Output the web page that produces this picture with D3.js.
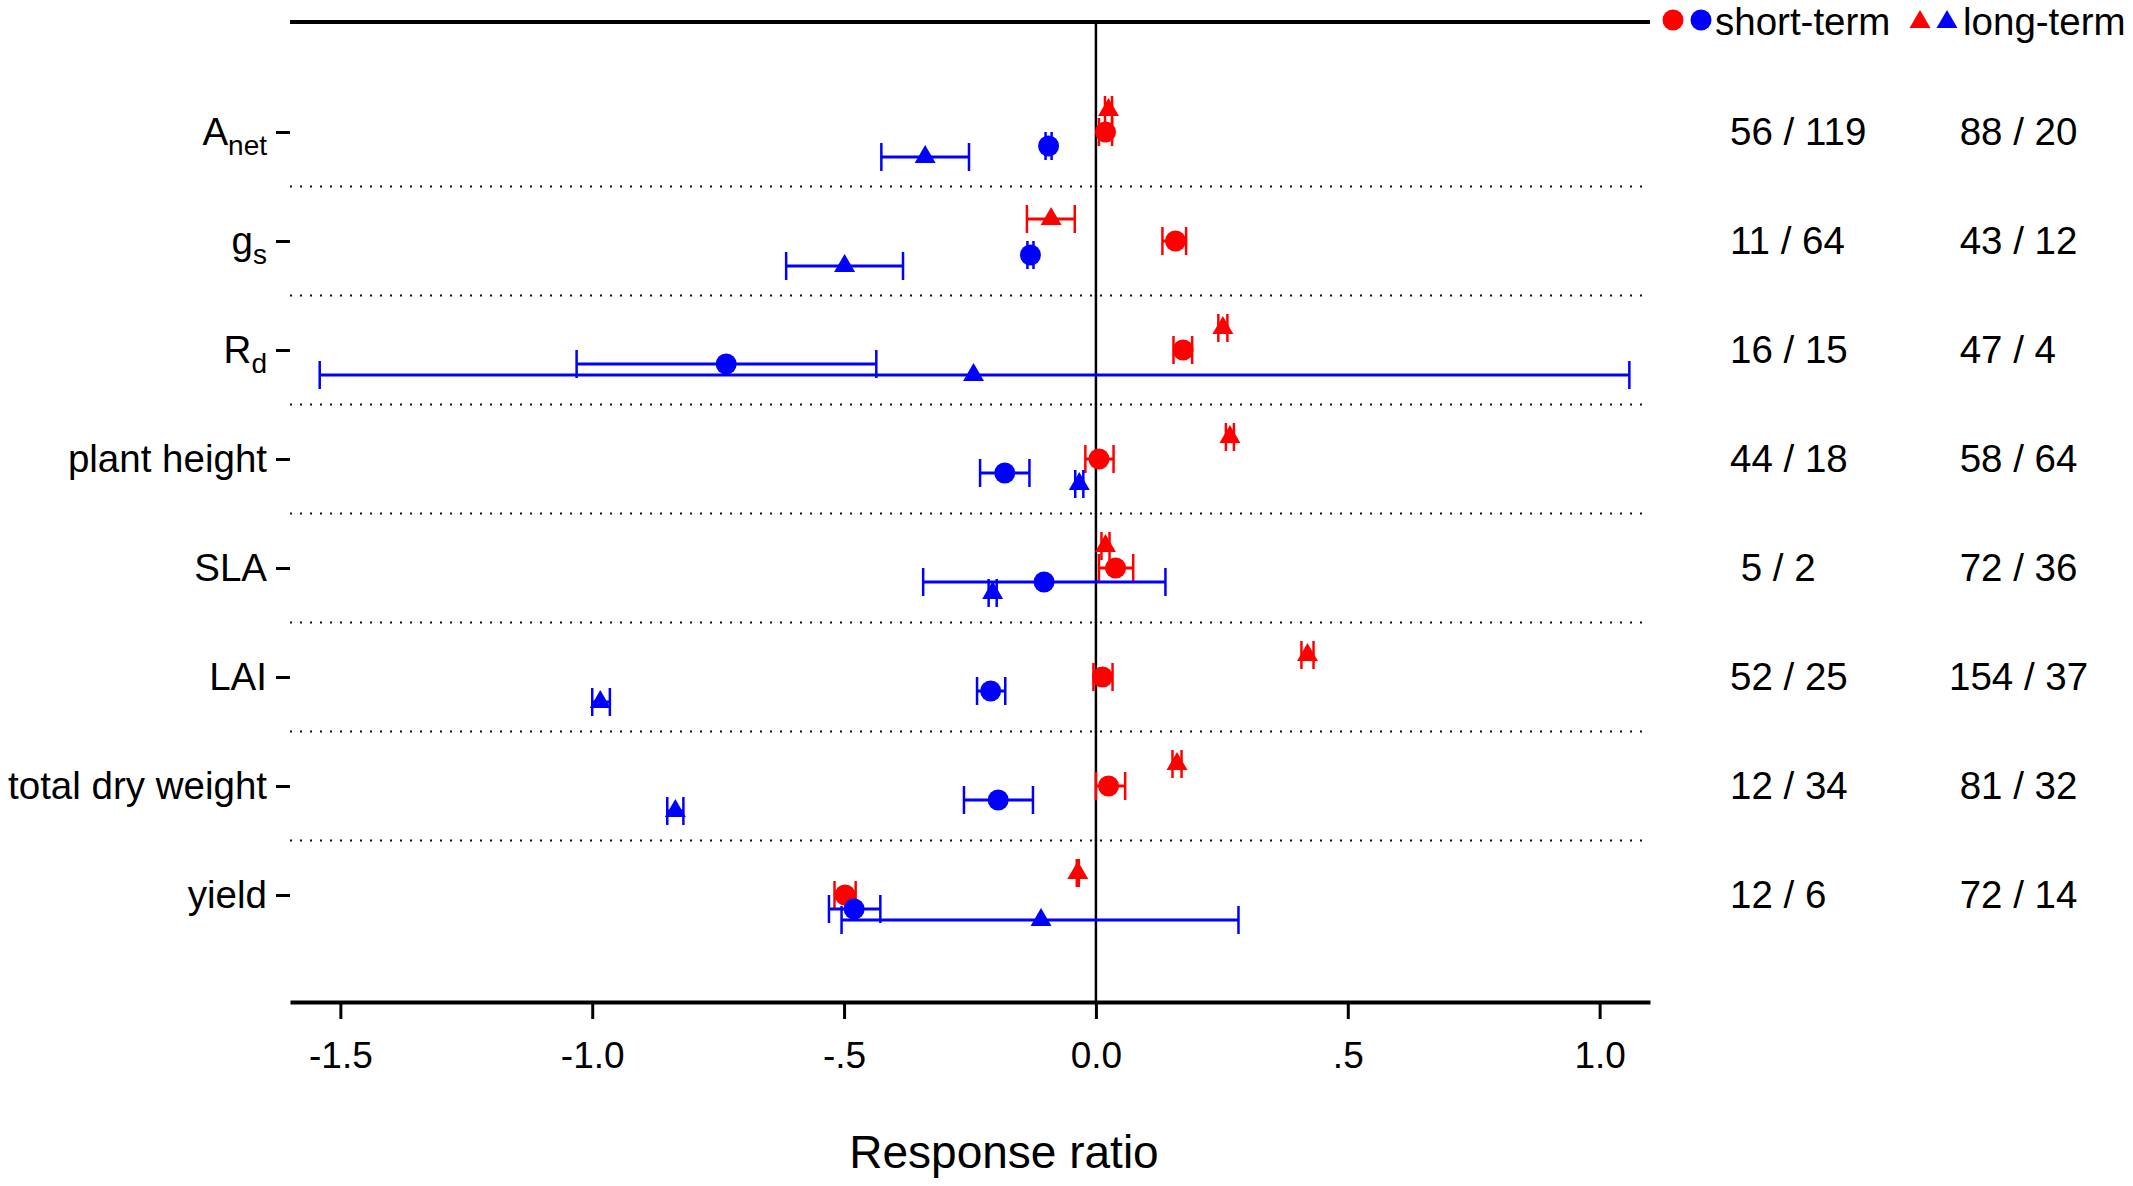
<!DOCTYPE html>
<html>
<head>
<meta charset="utf-8">
<script src="https://cdn.jsdelivr.net/npm/d3@7"></script>
<style>
  body { margin: 0; background: #fff; }
  text { font-family: "Liberation Sans", Arial, sans-serif; fill: #000; }
</style>
</head>
<body>
<script>
const width = 2133;
const height = 1186;

// categories, top to bottom
const traits = ['Anet', 'gs', 'Rd', 'plant height', 'SLA', 'LAI', 'total dry weight', 'yield'];
const subLabels = { Anet: ['A', 'net'], gs: ['g', 's'], Rd: ['R', 'd'] };

// short-term red (circle): mean, lower, upper
const shortRedMean = [0.019, 0.158, 0.173, 0.006, 0.039, 0.013, 0.025, -0.498];
const shortRedLow  = [0.006, 0.132, 0.154, -0.021, 0.006, -0.005, 0.000, -0.519];
const shortRedHigh = [0.032, 0.179, 0.191, 0.035, 0.074, 0.033, 0.058, -0.477];

// short-term blue (circle)
const shortBlueMean = [-0.094, -0.130, -0.734, -0.181, -0.103, -0.209, -0.194, -0.480];
const shortBlueLow  = [-0.100, -0.136, -1.031, -0.230, -0.343, -0.236, -0.262, -0.530];
const shortBlueHigh = [-0.088, -0.124, -0.436, -0.132, 0.138, -0.180, -0.125, -0.428];

// long-term red (triangle)
const longRedMean = [0.025, -0.089, 0.252, 0.266, 0.019, 0.420, 0.161, -0.036];
const longRedLow  = [0.018, -0.137, 0.243, 0.258, 0.011, 0.408, 0.152, -0.038];
const longRedHigh = [0.032, -0.042, 0.261, 0.274, 0.027, 0.432, 0.170, -0.034];

// long-term blue (triangle)
const longBlueMean = [-0.339, -0.499, -0.243, -0.033, -0.205, -0.984, -0.835, -0.109];
const longBlueLow  = [-0.426, -0.615, -1.541, -0.041, -0.213, -1.000, -0.851, -0.505];
const longBlueHigh = [-0.252, -0.383, 1.059, -0.025, -0.197, -0.965, -0.819, 0.283];

// number of studies / observations
const shortN1 = [56, 11, 16, 44, 5, 52, 12, 12];
const shortN2 = [119, 64, 15, 18, 2, 25, 34, 6];
const longN1 = [88, 43, 47, 58, 72, 154, 81, 72];
const longN2 = [20, 12, 4, 64, 36, 37, 32, 14];

const xTicks = [-1.5, -1.0, -0.5, 0, 0.5, 1.0];

const RED = '#ff0000';
const BLUE = '#0000ff';

const svg = d3.select('body').append('svg')
    .attr('width', width)
    .attr('height', height);

svg.append('rect').attr('width', width).attr('height', height).attr('fill', '#fff');

const x = d3.scaleLinear().domain([-1.6, 1.1]).range([290, 1650]);
const y = d3.scalePoint().domain(traits).range([132, 895]);
const step = y.step();

// dotted separators
svg.append('g')
    .selectAll('line')
    .data(traits.slice(0, -1))
    .enter().append('line')
    .attr('x1', x.range()[0])
    .attr('x2', x.range()[1])
    .attr('y1', d => y(d) + step / 2)
    .attr('y2', d => y(d) + step / 2)
    .attr('stroke', '#111')
    .attr('stroke-width', 2)
    .attr('stroke-dasharray', '2,8');

// top frame line
svg.append('line')
    .attr('x1', x.range()[0]).attr('x2', x.range()[1])
    .attr('y1', 22).attr('y2', 22)
    .attr('stroke', '#000').attr('stroke-width', 4);

// zero line
svg.append('line')
    .attr('x1', x(0)).attr('x2', x(0))
    .attr('y1', 22).attr('y2', 1002)
    .attr('stroke', '#000').attr('stroke-width', 2.5);

// x axis
const xAxis = svg.append('g')
    .attr('transform', 'translate(0,1002)')
    .call(d3.axisBottom(x).tickValues(xTicks).tickSize(17).tickSizeOuter(0).tickPadding(23)
        .tickFormat(d => {
            const s = d.toFixed(1);
            return d !== 0 && Math.abs(d) < 1 ? s.replace('0.', '.') : s;
        }));
xAxis.select('.domain').attr('stroke-width', 4);
xAxis.selectAll('.tick line').attr('stroke-width', 3);
xAxis.selectAll('text')
    .attr('font-size', '37px')
    .attr('font-family', '"Liberation Sans", Arial, sans-serif');

svg.append('text')
    .attr('x', 1004)
    .attr('y', 1168)
    .attr('text-anchor', 'middle')
    .attr('font-size', '46px')
    .text('Response ratio');

// y axis with category labels
const yAxis = svg.append('g')
    .attr('transform', 'translate(290,0)')
    .call(d3.axisLeft(y).tickSize(14).tickPadding(9));
yAxis.select('.domain').remove();
yAxis.selectAll('.tick line').attr('stroke-width', 3);
yAxis.selectAll('text')
    .attr('font-size', '38.5px')
    .attr('font-family', '"Liberation Sans", Arial, sans-serif')
    .each(function(d) {
        if (subLabels[d]) {
            const t = d3.select(this).text('');
            t.append('tspan').text(subLabels[d][0]);
            t.append('tspan').attr('font-size', '28px').attr('dy', '0.35em').text(subLabels[d][1]);
        }
    });

// series
const series = [
    { mean: shortRedMean, low: shortRedLow, high: shortRedHigh, color: RED, shape: 'circle', dy: 0 },
    { mean: longRedMean, low: longRedLow, high: longRedHigh, color: RED, shape: 'triangle', dy: -22 },
    { mean: shortBlueMean, low: shortBlueLow, high: shortBlueHigh, color: BLUE, shape: 'circle', dy: 14 },
    { mean: longBlueMean, low: longBlueLow, high: longBlueHigh, color: BLUE, shape: 'triangle', dy: 25 }
];

const triangle = d3.symbol().type(d3.symbolTriangle).size(190);
const capHalf = 14;

series.forEach(s => {
    const rows = traits.map((t, i) => ({ t, m: s.mean[i], lo: s.low[i], hi: s.high[i] }));
    const g = svg.append('g');

    g.selectAll('.bar')
        .data(rows)
        .enter().append('line')
        .attr('x1', d => x(d.lo)).attr('x2', d => x(d.hi))
        .attr('y1', d => y(d.t) + s.dy).attr('y2', d => y(d.t) + s.dy)
        .attr('stroke', s.color).attr('stroke-width', 3);

    ['lo', 'hi'].forEach(k => {
        g.selectAll('.cap-' + k)
            .data(rows)
            .enter().append('line')
            .attr('x1', d => x(d[k])).attr('x2', d => x(d[k]))
            .attr('y1', d => y(d.t) + s.dy - capHalf).attr('y2', d => y(d.t) + s.dy + capHalf)
            .attr('stroke', s.color).attr('stroke-width', 2.5);
    });

    if (s.shape === 'circle') {
        g.selectAll('circle')
            .data(rows)
            .enter().append('circle')
            .attr('cx', d => x(d.m))
            .attr('cy', d => y(d.t) + s.dy)
            .attr('r', 10.5)
            .attr('fill', s.color);
    } else {
        g.selectAll('path')
            .data(rows)
            .enter().append('path')
            .attr('d', triangle)
            .attr('transform', d => `translate(${x(d.m)},${y(d.t) + s.dy})`)
            .attr('fill', s.color);
    }
});

// sample size columns
const pad = (n, w) => String(n).padStart(w, '\u00a0');
svg.append('g')
    .selectAll('text')
    .data(traits)
    .enter().append('text')
    .attr('x', 1730)
    .attr('y', d => y(d))
    .attr('dy', '0.35em')
    .attr('font-size', '38.5px')
    .text((d, i) => `${pad(shortN1[i], 2)} / ${shortN2[i]}`);

svg.append('g')
    .selectAll('text')
    .data(traits)
    .enter().append('text')
    .attr('x', 1949)
    .attr('y', d => y(d))
    .attr('dy', '0.35em')
    .attr('font-size', '38.5px')
    .text((d, i) => `${pad(longN1[i], 3)} / ${longN2[i]}`);

// legend
const legend = svg.append('g');
legend.append('circle').attr('cx', 1673).attr('cy', 20).attr('r', 10.5).attr('fill', RED);
legend.append('circle').attr('cx', 1701).attr('cy', 20).attr('r', 10.5).attr('fill', BLUE);
legend.append('text').attr('x', 1715).attr('y', 35).attr('font-size', '38.5px').text('short-term');
legend.append('path').attr('d', triangle).attr('transform', 'translate(1920,22)').attr('fill', RED);
legend.append('path').attr('d', triangle).attr('transform', 'translate(1947,22)').attr('fill', BLUE);
legend.append('text').attr('x', 1963).attr('y', 35).attr('font-size', '38.5px').text('long-term');
</script>
</body>
</html>
